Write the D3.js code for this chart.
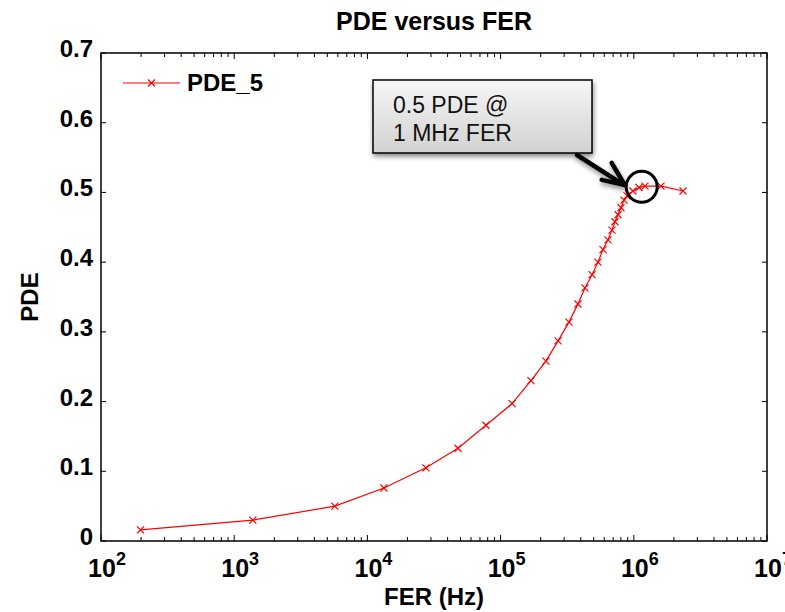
<!doctype html>
<html>
<head>
<meta charset="utf-8">
<title>PDE versus FER</title>
<script src="https://d3js.org/d3.v7.min.js"></script>
<style>
  body { margin: 0; background: #fff; }
  text { font-family: "Liberation Sans", Arial, Helvetica, sans-serif; }
</style>
</head>
<body>
<script>

// data
var ferHz = [198, 1380, 5700, 13300, 27500, 47900, 77600, 122000, 169000, 219000,
             270000, 326000, 381000, 430000, 486000, 538000, 587000, 640000, 686000,
             722000, 761000, 801000, 844000, 889000, 986000, 1094000, 1213000,
             1600000, 2340000];
var pde = [0.016, 0.030, 0.050, 0.076, 0.105, 0.133, 0.166, 0.197, 0.230, 0.258,
           0.287, 0.314, 0.340, 0.363, 0.382, 0.400, 0.418, 0.432, 0.446,
           0.458, 0.468, 0.478, 0.489, 0.495, 0.502, 0.507, 0.509,
           0.509, 0.502];
var seriesName = 'PDE_5';
var yTicks = [0, 0.1, 0.2, 0.3, 0.4, 0.5, 0.6, 0.7];
var xDecades = [2, 3, 4, 5, 6, 7];
var noteLines = ['0.5 PDE @', '1 MHz FER'];
var notePoint = [1.146e6, 0.508];

// canvas
var width = 785, height = 612;
var pLeft = 101, pRight = 767, pTop = 53, pBottom = 541;

var svg = d3.select('body').append('svg')
    .attr('width', width)
    .attr('height', height);

var defs = svg.append('defs');
var grad = defs.append('linearGradient')
    .attr('id', 'boxfill').attr('x1', 0).attr('y1', 0).attr('x2', 0).attr('y2', 1);
grad.append('stop').attr('offset', '0%').attr('stop-color', '#f6f6f6');
grad.append('stop').attr('offset', '100%').attr('stop-color', '#d2d2d2');
var shadow = defs.append('filter').attr('id', 'shadow')
    .attr('x', '-20%').attr('y', '-20%').attr('width', '150%').attr('height', '160%');
shadow.append('feDropShadow')
    .attr('dx', 1).attr('dy', 3).attr('stdDeviation', 2.5)
    .attr('flood-color', '#000').attr('flood-opacity', 0.45);

var x = d3.scaleLog().domain([1e2, 1e7]).range([pLeft, pRight]);
var y = d3.scaleLinear().domain([0, 0.7]).range([pBottom, pTop]);

// box
svg.append('rect')
    .attr('x', pLeft).attr('y', pTop)
    .attr('width', pRight - pLeft).attr('height', pBottom - pTop)
    .attr('fill', 'none').attr('stroke', '#000').attr('stroke-width', 1.5);

// x ticks, inward, top and bottom
var xMinor = [];
xDecades.slice(0, -1).forEach(function(d) {
  for (var k = 2; k <= 9; k++) xMinor.push(k * Math.pow(10, d));
});
var xMajor = xDecades.map(function(d) { return Math.pow(10, d); });

var ticks = svg.append('g').attr('stroke', '#000').attr('stroke-width', 1);
xMinor.forEach(function(v) {
  ticks.append('line').attr('x1', x(v)).attr('x2', x(v)).attr('y1', pBottom).attr('y2', pBottom - 4);
  ticks.append('line').attr('x1', x(v)).attr('x2', x(v)).attr('y1', pTop).attr('y2', pTop + 4);
});
xMajor.forEach(function(v) {
  ticks.append('line').attr('x1', x(v)).attr('x2', x(v)).attr('y1', pBottom).attr('y2', pBottom - 6);
  ticks.append('line').attr('x1', x(v)).attr('x2', x(v)).attr('y1', pTop).attr('y2', pTop + 6);
});
yTicks.forEach(function(v) {
  ticks.append('line').attr('x1', pLeft).attr('x2', pLeft + 5).attr('y1', y(v)).attr('y2', y(v));
  ticks.append('line').attr('x1', pRight).attr('x2', pRight - 5).attr('y1', y(v)).attr('y2', y(v));
});

// tick labels
svg.selectAll('.ylab').data(yTicks).enter().append('text')
    .attr('x', 93)
    .attr('y', function(d) { return y(d) + 4; })
    .attr('text-anchor', 'end')
    .attr('font-size', 24).attr('font-weight', 'bold')
    .text(function(d) { return d === 0 ? '0' : d3.format('.1f')(d); });

var xl = svg.selectAll('.xlab').data(xDecades).enter().append('text')
    .attr('x', function(d) { return x(Math.pow(10, d)) + 6; })
    .attr('y', 577)
    .attr('text-anchor', 'middle')
    .attr('font-size', 25).attr('font-weight', 'bold');
xl.append('tspan').text('10');
xl.append('tspan').attr('dy', -12).attr('font-size', 18).text(function(d) { return d; });

// titles
svg.append('text')
    .attr('x', (pLeft + pRight) / 2).attr('y', 30)
    .attr('text-anchor', 'middle')
    .attr('font-size', 25).attr('font-weight', 'bold')
    .text('PDE versus FER');
svg.append('text')
    .attr('x', (pLeft + pRight) / 2).attr('y', 605)
    .attr('text-anchor', 'middle')
    .attr('font-size', 24).attr('font-weight', 'bold')
    .text('FER (Hz)');
svg.append('text')
    .attr('transform', 'translate(38,' + ((pTop + pBottom) / 2) + ') rotate(-90)')
    .attr('text-anchor', 'middle')
    .attr('font-size', 24).attr('font-weight', 'bold')
    .text('PDE');

// series
var line = d3.line()
    .x(function(d, i) { return x(ferHz[i]); })
    .y(function(d) { return y(d); });

svg.append('path')
    .attr('d', line(pde))
    .attr('fill', 'none')
    .attr('stroke', '#ff0000')
    .attr('stroke-width', 1.2);

function cross(g, cx, cy) {
  var s = 3.5;
  g.append('path')
      .attr('d', 'M' + (cx - s) + ',' + (cy - s) + 'L' + (cx + s) + ',' + (cy + s) +
                 'M' + (cx - s) + ',' + (cy + s) + 'L' + (cx + s) + ',' + (cy - s))
      .attr('stroke', '#ff0000').attr('stroke-width', 1.2).attr('fill', 'none');
}
var marks = svg.append('g');
pde.forEach(function(v, i) { cross(marks, x(ferHz[i]), y(v)); });

// legend
var leg = svg.append('g');
leg.append('line').attr('x1', 123).attr('x2', 180).attr('y1', 83).attr('y2', 83)
    .attr('stroke', '#ff0000').attr('stroke-width', 1.2);
cross(leg, 151.5, 83);
leg.append('text').attr('x', 187).attr('y', 91)
    .attr('font-size', 24).attr('font-weight', 'bold')
    .text(seriesName);

// annotation
var nx = x(notePoint[0]), ny = y(notePoint[1]);
var note = svg.append('g');
note.append('rect')
    .attr('x', 373).attr('y', 80).attr('width', 219).attr('height', 73)
    .attr('fill', 'url(#boxfill)').attr('stroke', '#000').attr('stroke-width', 1.5)
    .attr('filter', 'url(#shadow)');
noteLines.forEach(function(t, i) {
  note.append('text').attr('x', 393).attr('y', 113 + i * 28)
      .attr('font-size', 23).attr('fill', '#111')
      .text(t);
});
var arrow = note.append('g').attr('filter', 'url(#shadow)')
    .attr('stroke', '#000').attr('stroke-width', 4.5).attr('fill', 'none')
    .attr('stroke-linecap', 'round').attr('stroke-linejoin', 'round');
arrow.append('line').attr('x1', 577).attr('y1', 155).attr('x2', nx - 18).attr('y2', ny - 2);
arrow.append('path')
    .attr('d', 'M' + (nx - 40) + ',' + (ny - 7) + 'L' + (nx - 17) + ',' + (ny - 2) + 'L' + (nx - 30) + ',' + (ny - 24));
note.append('circle')
    .attr('cx', nx).attr('cy', ny).attr('r', 15.5)
    .attr('fill', 'none').attr('stroke', '#000').attr('stroke-width', 3);

</script>
</body>
</html>
